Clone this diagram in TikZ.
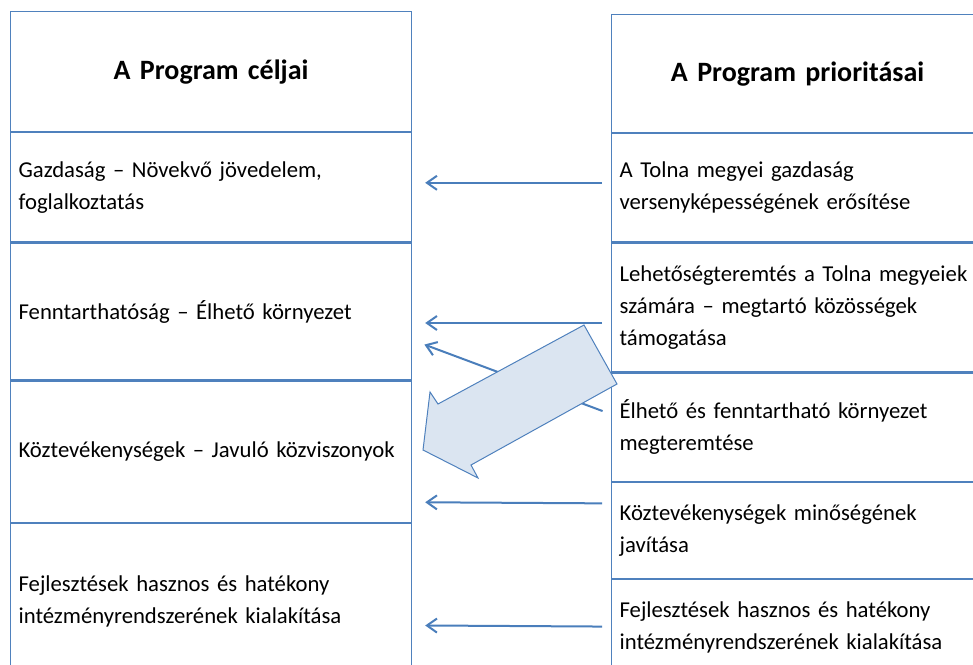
\documentclass[tikz,border=0pt]{standalone}
\usepackage{fontspec}
\setmainfont{Carlito}[WordSpace=0.85]
\usetikzlibrary{positioning,calc,arrows.meta}
\definecolor{cellblue}{HTML}{4F81BD}
\definecolor{arrblue}{HTML}{4A7EBB}
\definecolor{blockfill}{HTML}{DBE5F1}
\begin{document}
\begin{tikzpicture}[x=1pt,y=-1pt,
	cell/.style={draw=cellblue,line width=1.2pt,rectangle,anchor=north,inner sep=0pt,
	text width=385pt,minimum width=401pt,align=left,font=\fontsize{22.7}{32}\selectfont},
	rcell/.style={cell,text width=356pt,minimum width=372pt},
	head/.style={align=center,font=\fontsize{28}{32}\bfseries},
	conn/.style={draw=arrblue,line width=2pt,-{Straight Barb[length=10pt,width=14pt]},
	shorten <=9pt,shorten >=13pt},
	blockarr/.style={draw=cellblue,line width=1pt,fill=blockfill,line join=miter}]
 \useasboundingbox (0,0) rectangle (973,664);
 \clip (0,0) rectangle (973,664);
 % celok
 \node[cell,head,anchor=north west,minimum height=120pt] (cl0) at (10,11) {A Program céljai};
 \node[cell,minimum height=109pt,below=0pt of cl0] (cl1) {Gazdaság – Növekvő jövedelem,\\foglalkoztatás};
 \node[cell,minimum height=137pt,below=0pt of cl1] (cl2) {Fenntarthatóság – Élhető környezet};
 \node[cell,minimum height=141pt,below=0pt of cl2] (cl3) {Köztevékenységek – Javuló közviszonyok};
 \node[cell,minimum height=156pt,below=0pt of cl3] (cl4) {Fejlesztések hasznos és hatékony\\intézményrendszerének kialakítása};
 % prioritasok
 \node[rcell,head,anchor=north west,minimum height=118pt] (pr0) at (611,14) {A Program prioritásai};
 \node[rcell,minimum height=108pt,below=0pt of pr0] (pr1) {A Tolna megyei gazdaság\\versenyképességének erősítése};
 \node[rcell,minimum height=129pt,below=0pt of pr1] (pr2) {Lehetőségteremtés a Tolna megyeiek\\számára – megtartó közösségek\\támogatása};
 \node[rcell,minimum height=108pt,below=0pt of pr2] (pr3) {Élhető és fenntartható környezet\\megteremtése};
 \node[rcell,minimum height=96pt,below=0pt of pr3] (pr4) {Köztevékenységek minőségének\\javítása};
 \node[rcell,minimum height=96pt,below=0pt of pr4] (pr5) {Fejlesztések hasznos és hatékony\\intézményrendszerének kialakítása};
 % nyilak
 \draw[conn] ($(pr1.west)+(0,-5)$) -- ($(cl1.east)+(0,-4.5)$);
 \draw[conn] ($(pr2.west)+(0,15.5)$) -- ($(cl2.east)+(0,11.5)$);
 \draw[conn] ($(pr3.west)+(0,-13)$) -- ($(cl2.east)+(0,28.5)$);
 \draw[conn] ($(pr4.west)+(0,-27)$) -- ($(cl3.east)+(0,50.5)$);
 \draw[conn] ($(pr5.west)+(0,-1)$) -- ($(cl4.east)+(0,24)$);
 \draw[blockarr] (423,450) -- (430,392) -- (438,404) -- (584,325) -- (617,384) -- (471,465) -- (478,478) -- cycle;
\end{tikzpicture}
\end{document}
